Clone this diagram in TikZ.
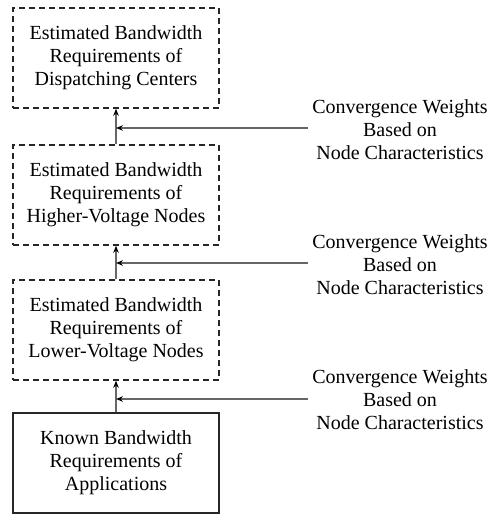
\documentclass[tikz,border=0pt]{standalone}
\usepackage{fontspec}
\setmainfont{Liberation Serif}
\usetikzlibrary{arrows.meta}
\begin{document}
\begin{tikzpicture}[x=1pt,y=-1pt,
  boxbase/.style={minimum width=206pt, minimum height=100pt, align=center, inner sep=0pt,
    font=\fontsize{20}{23}\selectfont, text=black},
  estbox/.style={boxbase, draw=black!85, line width=1.5pt, dash pattern=on 6pt off 4pt},
  knownbox/.style={boxbase, draw=black!85, line width=1.9pt},
  weight/.style={align=center, inner sep=0pt, font=\fontsize{20}{23}\selectfont, text=black},
  conn/.style={draw=black!60, line width=1.2pt, -{Stealth[length=7pt,width=5.5pt,color=black]}}
]
\useasboundingbox (0,0) rectangle (492,514);
\node[estbox] (dc) at (116,58) {Estimated Bandwidth\\Requirements of\\Dispatching Centers};
\node[estbox] (hv) at (116,195) {Estimated Bandwidth\\Requirements of\\Higher-Voltage Nodes};
\node[estbox] (lv) at (116,330) {Estimated Bandwidth\\Requirements of\\Lower-Voltage Nodes};
\node[knownbox] (ka) at (116,463) {Known Bandwidth\\Requirements of\\Applications};
\node[weight] (w1) at (400,130) {Convergence Weights\\Based on\\Node Characteristics};
\node[weight] (w2) at (400,265) {Convergence Weights\\Based on\\Node Characteristics};
\node[weight] (w3) at (400,400) {Convergence Weights\\Based on\\Node Characteristics};
\coordinate (s1) at (308,128);
\coordinate (s2) at (308,263);
\coordinate (s3) at (308,399);
\draw[conn] (hv.north) -- (dc.south);
\draw[conn] (lv.north) -- (hv.south);
\draw[conn] (ka.north) -- (lv.south);
\draw[conn] (s1) -- (s1 -| dc.south);
\draw[conn] (s2) -- (s2 -| hv.south);
\draw[conn] (s3) -- (s3 -| lv.south);
\end{tikzpicture}
\end{document}
